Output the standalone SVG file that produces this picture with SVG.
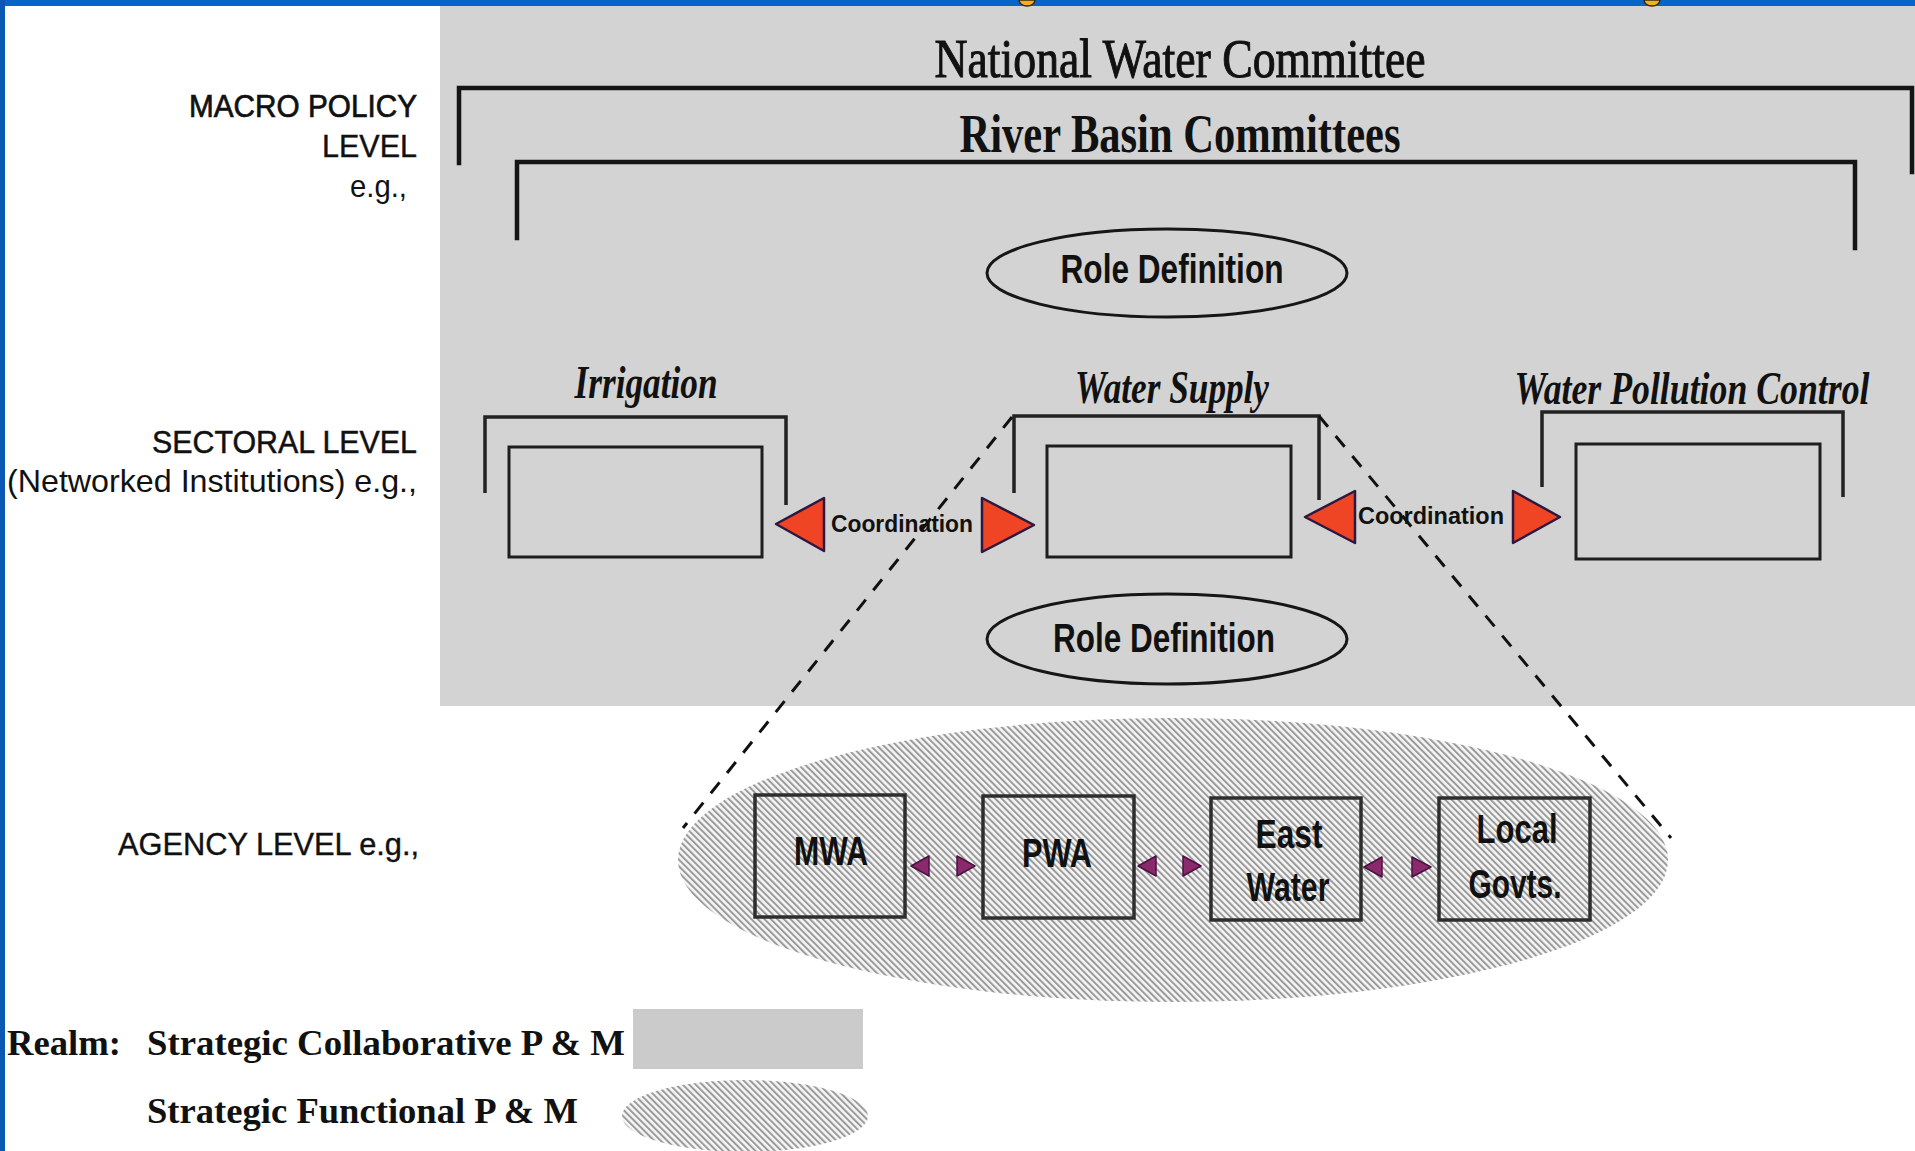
<svg xmlns="http://www.w3.org/2000/svg" width="1915" height="1151" viewBox="0 0 1915 1151">
<defs>
<pattern id="hatch" width="4.6" height="4.6" patternUnits="userSpaceOnUse" patternTransform="rotate(-45)">
<rect width="4.6" height="4.6" fill="#f6f6f6"/>
<rect width="2" height="4.6" fill="#9a9a9a"/>
</pattern>
<style>
.bracket{fill:none;stroke:#151515;stroke-width:4.5;stroke-linecap:square}
.sbr{fill:none;stroke:#222;stroke-width:3.5}
.ibox{fill:none;stroke:#1e1e1e;stroke-width:3}
.abox{fill:none;stroke:#2e2e2e;stroke-width:3.5}
.ell{fill:none;stroke:#161616;stroke-width:3}
.serif{font-family:"Liberation Serif","Times New Roman",serif;font-weight:bold;fill:#111}
.rserif{font-family:"Liberation Serif","Times New Roman",serif;fill:#111}
.ital{font-family:"Liberation Serif","Times New Roman",serif;font-weight:bold;font-style:italic;fill:#111}
.sans{font-family:"Liberation Sans",Arial,sans-serif;fill:#111}
.bsans{font-family:"Liberation Sans",Arial,sans-serif;font-weight:bold;fill:#111}
.dash{stroke:#111;stroke-width:3;stroke-dasharray:14 12;fill:none}
.red{fill:#ef4524;stroke:#2c1840;stroke-width:2.5;stroke-linejoin:round}
.pur{fill:#8a2a6c;stroke:#4a1240;stroke-width:1.5;stroke-linejoin:round}
</style>
</defs>

<rect x="0" y="0" width="1915" height="1151" fill="#ffffff"/>
<rect x="440" y="6" width="1475" height="700" fill="#d3d3d3"/>
<rect x="0" y="0" width="1915" height="6" fill="#0864c8"/>
<rect x="0" y="0" width="5" height="1151" fill="#0a58b4"/>
<path d="M1019,0 h16 a8,6 0 0 1 -16,0 z" fill="#f2b020" stroke="#3a2a10" stroke-width="1.5"/>
<path d="M1644,0 h16 a8,6 0 0 1 -16,0 z" fill="#f2b020" stroke="#3a2a10" stroke-width="1.5"/>

<g id="level-labels">
<text class="sans" x="417" y="117" font-size="32" text-anchor="end" textLength="228" lengthAdjust="spacingAndGlyphs" stroke="#111" stroke-width="0.7">MACRO POLICY</text>
<text class="sans" x="417" y="157" font-size="32" text-anchor="end" textLength="95" lengthAdjust="spacingAndGlyphs" stroke="#111" stroke-width="0.4">LEVEL</text>
<text class="sans" x="407" y="197" font-size="32" text-anchor="end" textLength="57" lengthAdjust="spacingAndGlyphs">e.g.,</text>
<text class="sans" x="417" y="453" font-size="32" text-anchor="end" textLength="265" lengthAdjust="spacingAndGlyphs" stroke="#111" stroke-width="0.5">SECTORAL LEVEL</text>
<text class="sans" x="417" y="492" font-size="32" text-anchor="end" textLength="410" lengthAdjust="spacingAndGlyphs">(Networked Institutions) e.g.,</text>
<text class="sans" x="419" y="855" font-size="32" text-anchor="end" textLength="301" lengthAdjust="spacingAndGlyphs" stroke="#111" stroke-width="0.4">AGENCY LEVEL e.g.,</text>
</g>

<g id="national-water-committee">
<text class="rserif" x="1180" y="77" font-size="54" text-anchor="middle" textLength="491" lengthAdjust="spacingAndGlyphs" stroke="#111" stroke-width="1">National Water Committee</text>
<path class="bracket" d="M459,163 V88 H1912 V172"/>
</g>

<g id="river-basin-committees">
<text class="serif" x="1180" y="152" font-size="54" text-anchor="middle" textLength="441" lengthAdjust="spacingAndGlyphs">River Basin Committees</text>
<path class="bracket" d="M517,238 V162 H1855 V248"/>
</g>

<g id="role-definition-top">
<ellipse class="ell" cx="1167" cy="273" rx="180" ry="44"/>
<text class="bsans" x="1172" y="283" font-size="41" text-anchor="middle" textLength="223" lengthAdjust="spacingAndGlyphs">Role Definition</text>
</g>

<g id="irrigation">
<text class="ital" x="646" y="398" font-size="46" text-anchor="middle" textLength="143" lengthAdjust="spacingAndGlyphs">Irrigation</text>
<path class="sbr" d="M485,493 V417 H786 V505"/>
<rect class="ibox" x="509" y="447" width="253" height="110"/>
</g>

<g id="water-supply">
<text class="ital" x="1172" y="403" font-size="46" text-anchor="middle" textLength="194" lengthAdjust="spacingAndGlyphs">Water Supply</text>
<path class="sbr" d="M1014,493 V416 H1319 V500"/>
<rect class="ibox" x="1047" y="446" width="244" height="111"/>
</g>

<g id="water-pollution-control">
<text class="ital" x="1692" y="404" font-size="46" text-anchor="middle" textLength="355" lengthAdjust="spacingAndGlyphs">Water Pollution Control</text>
<path class="sbr" d="M1542,487 V412 H1843 V497"/>
<rect class="ibox" x="1576" y="444" width="244" height="115"/>
</g>

<g id="role-definition-bottom">
<ellipse class="ell" cx="1167" cy="639" rx="180" ry="45"/>
<text class="bsans" x="1164" y="652" font-size="41" text-anchor="middle" textLength="222" lengthAdjust="spacingAndGlyphs">Role Definition</text>
</g>

<g id="agency-realm">
<ellipse cx="1173" cy="860" rx="495" ry="142" fill="url(#hatch)"/>
</g>

<g id="mwa">
<rect class="abox" x="755" y="795" width="150" height="122"/>
<text class="bsans" x="831" y="865" font-size="40" text-anchor="middle" textLength="74" lengthAdjust="spacingAndGlyphs">MWA</text>
</g>
<g id="pwa">
<rect class="abox" x="983" y="796" width="151" height="122"/>
<text class="bsans" x="1057" y="867" font-size="40" text-anchor="middle" textLength="70" lengthAdjust="spacingAndGlyphs">PWA</text>
</g>
<g id="east-water">
<rect class="abox" x="1211" y="798" width="150" height="122"/>
<text class="bsans" x="1289" y="848" font-size="40" text-anchor="middle" textLength="67" lengthAdjust="spacingAndGlyphs">East</text>
<text class="bsans" x="1288" y="901" font-size="40" text-anchor="middle" textLength="83" lengthAdjust="spacingAndGlyphs">Water</text>
</g>
<g id="local-govts">
<rect class="abox" x="1439" y="798" width="151" height="122"/>
<text class="bsans" x="1517" y="843" font-size="40" text-anchor="middle" textLength="81" lengthAdjust="spacingAndGlyphs">Local</text>
<text class="bsans" x="1515" y="898" font-size="40" text-anchor="middle" textLength="93" lengthAdjust="spacingAndGlyphs">Govts.</text>
</g>

<g id="connectors">
<line class="dash" x1="1012" y1="417" x2="683" y2="828"/>
<line class="dash" x1="1319" y1="416" x2="1671" y2="838"/>
<g id="coordination-1">
<polygon class="red" points="776,524 824,498 824,551"/>
<text class="bsans" x="902" y="532" font-size="24" text-anchor="middle" textLength="142" lengthAdjust="spacingAndGlyphs">Coordination</text>
<polygon class="red" points="982,498 1034,525 982,552"/>
</g>
<g id="coordination-2">
<polygon class="red" points="1305,517 1355,491 1355,543"/>
<text class="bsans" x="1431" y="524" font-size="24" text-anchor="middle" textLength="146" lengthAdjust="spacingAndGlyphs">Coordination</text>
<polygon class="red" points="1513,491 1560,517 1513,543"/>
</g>
<polygon class="pur" points="911,866 929,856 929,876"/>
<polygon class="pur" points="957,856 975,866 957,876"/>
<polygon class="pur" points="1138,866 1156,856 1156,876"/>
<polygon class="pur" points="1183,856 1201,866 1183,876"/>
<polygon class="pur" points="1364,867 1382,857 1382,877"/>
<polygon class="pur" points="1412,857 1431,867 1412,877"/>
</g>

<g id="legend">
<text class="serif" x="7" y="1055" font-size="36" textLength="114" lengthAdjust="spacingAndGlyphs">Realm:</text>
<text class="serif" x="147" y="1055" font-size="36" textLength="478" lengthAdjust="spacingAndGlyphs">Strategic Collaborative P &amp; M</text>
<rect x="633" y="1009" width="230" height="60" fill="#cbcbcb"/>
<text class="serif" x="147" y="1123" font-size="36" textLength="431" lengthAdjust="spacingAndGlyphs">Strategic Functional P &amp; M</text>
<ellipse cx="745" cy="1116" rx="123" ry="36" fill="url(#hatch)"/>
</g>
</svg>
